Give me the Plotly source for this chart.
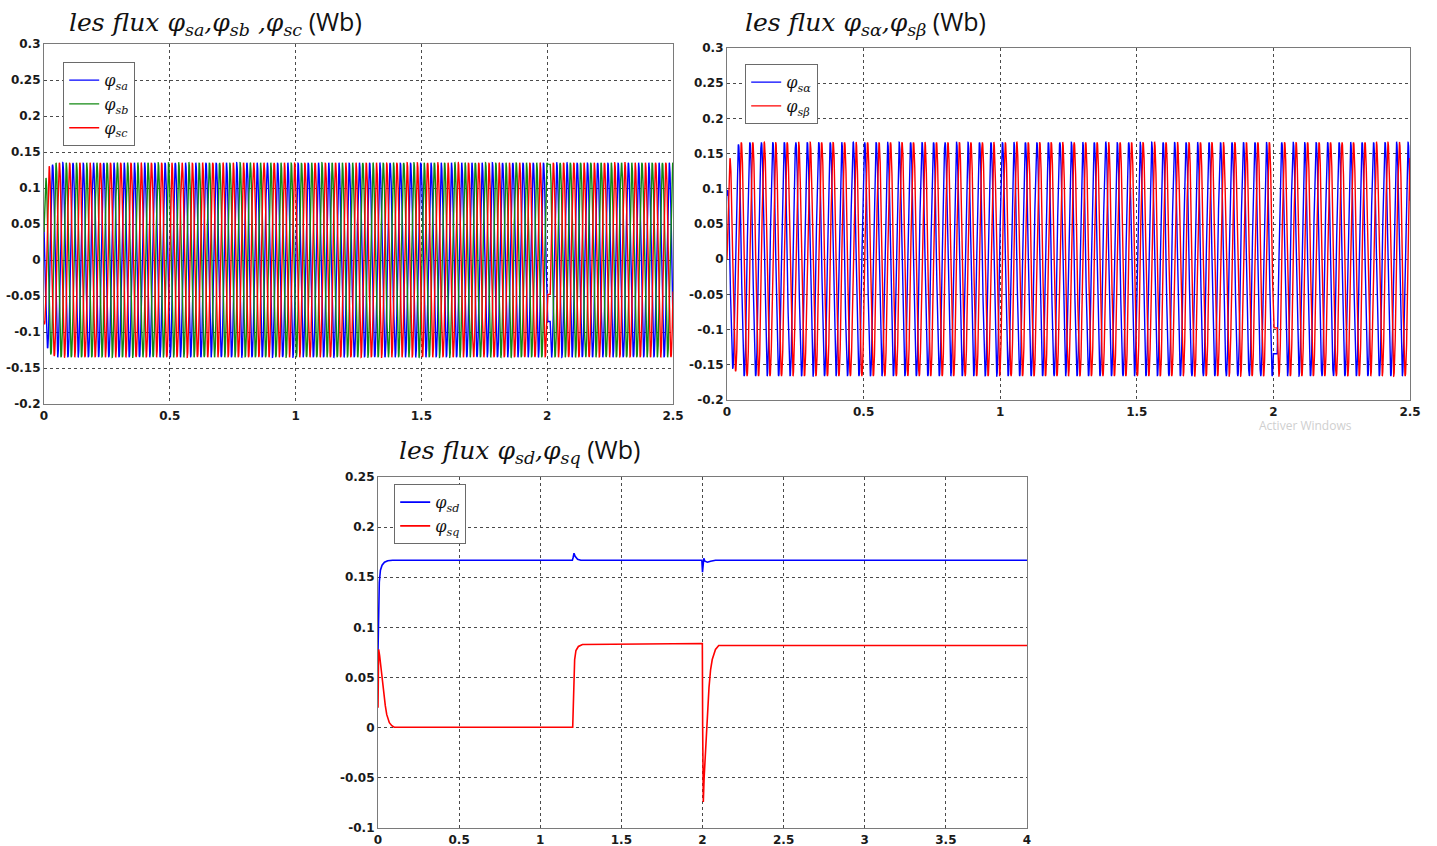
import numpy as np
import plotly.graph_objects as go

# ---------------- data ----------------
# three-phase stator fluxes (top-left): envelope + electrical frequency
abc_env_t = [0.0, 0.008, 0.02, 0.05, 2.5]
abc_env_amp = [0.085, 0.115, 0.13, 0.135, 0.135]
abc_freq_hz = 24.6
abc_hold = [2.0, 2.012]          # short angle freeze seen at t = 2 s

# alpha-beta stator fluxes (top-right)
ab_env_t = [0.0, 0.008, 0.02, 0.05, 2.5]
ab_env_amp = [0.09, 0.14, 0.155, 0.166, 0.166]
ab_freq_hz = 23.8
ab_hold = [2.0, 2.014]

# d-q stator fluxes (bottom)
sd_t = [0.0, 0.003, 0.008, 0.015, 0.025, 0.04, 0.06, 0.09, 1.198, 1.203, 1.208, 1.215, 1.23, 1.25,
        1.996, 2.0, 2.003, 2.008, 2.015, 2.03, 2.05, 2.08, 4.0]
sd_v = [0.075, 0.12, 0.145, 0.157, 0.162, 0.165, 0.1665, 0.167, 0.167, 0.170, 0.174, 0.171, 0.168, 0.167,
        0.167, 0.155, 0.162, 0.169, 0.166, 0.165, 0.166, 0.167, 0.167]
sq_t = [0.0, 0.004, 0.01, 0.02, 0.033, 0.045, 0.054, 0.07, 0.085, 0.1, 1.2, 1.203, 1.207, 1.212, 1.22,
        1.235, 1.26, 1.999, 2.001, 2.005, 2.01, 2.02, 2.03, 2.04, 2.05, 2.06, 2.08, 2.1, 4.0]
sq_v = [0.02, 0.078, 0.072, 0.056, 0.038, 0.022, 0.013, 0.005, 0.002, 0.0005, 0.0005, 0.02, 0.05, 0.068,
        0.077, 0.081, 0.083, 0.084, 0.0, -0.074, -0.05, -0.015, 0.015, 0.04, 0.058, 0.068, 0.078, 0.082, 0.082]

x_ticks_top = [0, 0.5, 1, 1.5, 2, 2.5]
x_ticktext_top = ["0", "0.5", "1", "1.5", "2", "2.5"]
y_ticks_top = [-0.2, -0.15, -0.1, -0.05, 0, 0.05, 0.1, 0.15, 0.2, 0.25, 0.3]
y_ticktext_top = ["-0.2", "-0.15", "-0.1", "-0.05", "0", "0.05", "0.1", "0.15", "0.2", "0.25", "0.3"]
x_ticks_bot = [0, 0.5, 1, 1.5, 2, 2.5, 3, 3.5, 4]
x_ticktext_bot = ["0", "0.5", "1", "1.5", "2", "2.5", "3", "3.5", "4"]
y_ticks_bot = [-0.1, -0.05, 0, 0.05, 0.1, 0.15, 0.2, 0.25]
y_ticktext_bot = ["-0.1", "-0.05", "0", "0.05", "0.1", "0.15", "0.2", "0.25"]

names_abc = ["<i>φ<sub>sa</sub></i>", "<i>φ<sub>sb</sub></i>", "<i>φ<sub>sc</sub></i>"]
names_ab = ["<i>φ<sub>sα</sub></i>", "<i>φ<sub>sβ</sub></i>"]
names_dq = ["<i>φ<sub>sd</sub></i>", "<i>φ<sub>sq</sub></i>"]

# ---------------- build waveforms ----------------
t = np.linspace(0, 2.5, 12001)


def angle(tt, f, hold):
    te = tt - np.clip(tt - hold[0], 0, hold[1] - hold[0])
    return 2 * np.pi * f * te


amp_abc = np.interp(t, abc_env_t, abc_env_amp)
th = angle(t, abc_freq_hz, abc_hold) + 1.0
phi_a = amp_abc * np.cos(th)
phi_b = amp_abc * np.cos(th - 2 * np.pi / 3)
phi_c = amp_abc * np.cos(th + 2 * np.pi / 3)

amp_ab = np.interp(t, ab_env_t, ab_env_amp)
th2 = angle(t, ab_freq_hz, ab_hold)
phi_beta = amp_ab * np.sin(th2)
phi_alpha = amp_ab * np.sin(th2 + np.pi / 2)

BLUE = "#0000ff"
GREEN = "#138a13"
RED = "#ff0000"
LW = 1.4

fig = go.Figure()
for y, c, n in zip([phi_a, phi_b, phi_c], [BLUE, GREEN, RED], names_abc):
    fig.add_trace(go.Scatter(x=t, y=y, mode="lines", line=dict(color=c, width=LW), name=n,
                             xaxis="x", yaxis="y", legend="legend"))
for y, c, n in zip([phi_alpha, phi_beta], [BLUE, RED], names_ab):
    fig.add_trace(go.Scatter(x=t, y=y, mode="lines", line=dict(color=c, width=LW), name=n,
                             xaxis="x2", yaxis="y2", legend="legend2"))
fig.add_trace(go.Scatter(x=sd_t, y=sd_v, mode="lines", line=dict(color=BLUE, width=1.6), name=names_dq[0],
                         xaxis="x3", yaxis="y3", legend="legend3"))
fig.add_trace(go.Scatter(x=sq_t, y=sq_v, mode="lines", line=dict(color=RED, width=1.6), name=names_dq[1],
                         xaxis="x3", yaxis="y3", legend="legend3"))

W, H = 1437, 846


def px(xp):
    return xp / W


def py(yp):
    return 1 - yp / H


tickfont = dict(family="DejaVu Sans", size=12, color="#1a1a1a", weight="bold")
axcommon = dict(showline=True, linecolor="#7a7a7a", linewidth=1.2, mirror=True, ticks="",
                showgrid=True, gridcolor="#4a4a4a", gridwidth=1, griddash="dot", zeroline=False,
                tickfont=tickfont, fixedrange=True, automargin=False)

layout = dict(
    width=W, height=H, margin=dict(l=0, r=0, t=0, b=0, autoexpand=False),
    paper_bgcolor="white", plot_bgcolor="white", showlegend=True,
    xaxis=dict(domain=[px(44), px(673)], range=[0, 2.5], tickvals=x_ticks_top, ticktext=x_ticktext_top,
               anchor="y", **axcommon),
    yaxis=dict(domain=[py(404), py(44)], range=[-0.2, 0.3], tickvals=y_ticks_top, ticktext=y_ticktext_top,
               anchor="x", **axcommon),
    xaxis2=dict(domain=[px(727), px(1410)], range=[0, 2.5], tickvals=x_ticks_top, ticktext=x_ticktext_top,
                anchor="y2", **axcommon),
    yaxis2=dict(domain=[py(400), py(48)], range=[-0.2, 0.3], tickvals=y_ticks_top, ticktext=y_ticktext_top,
                anchor="x2", **axcommon),
    xaxis3=dict(domain=[px(378), px(1027)], range=[0, 4], tickvals=x_ticks_bot, ticktext=x_ticktext_bot,
                anchor="y3", **axcommon),
    yaxis3=dict(domain=[py(828), py(477)], range=[-0.1, 0.25], tickvals=y_ticks_bot, ticktext=y_ticktext_bot,
                anchor="x3", **axcommon),
)
legfont = dict(family="DejaVu Serif", size=16, color="#111")
leg = dict(bgcolor="white", bordercolor="#6a6a6a", borderwidth=1.2, font=legfont,
           xanchor="left", yanchor="top", tracegroupgap=0, itemwidth=30)
layout["legend"] = dict(x=px(63), y=py(62), **leg)
layout["legend2"] = dict(x=px(745), y=py(64), **leg)
layout["legend3"] = dict(x=px(394), y=py(484), **leg)
fig.update_layout(**layout)

wb = "<span style='font-family:Open Sans;font-style:normal'> (Wb)</span>"
titlefont = dict(family="DejaVu Serif", size=25, color="#111")
ann = dict(xref="paper", yref="paper", showarrow=False, font=titlefont, xanchor="center", yanchor="middle")
fig.add_annotation(x=px(215), y=py(22), text="<i>les flux φ<sub>sa</sub>,φ<sub>sb</sub> ,φ<sub>sc</sub></i>" + wb, **ann)
fig.add_annotation(x=px(865), y=py(22), text="<i>les flux φ<sub>sα</sub>,φ<sub>sβ</sub></i>" + wb, **ann)
fig.add_annotation(x=px(519), y=py(450), text="<i>les flux φ<sub>sd</sub>,φ<sub>sq</sub></i>" + wb, **ann)
fig.add_annotation(x=px(1305), y=py(425), xref="paper", yref="paper", showarrow=False,
                   xanchor="center", yanchor="middle",
                   font=dict(family="Open Sans", size=12, color="#cfcfcf"), text="Activer Windows")

fig.write_html("out.html", config={"displayModeBar": False},
               post_script="document.body.style.margin='0';document.body.style.overflow='hidden';"
                           "window.dispatchEvent(new Event('resize'));")
